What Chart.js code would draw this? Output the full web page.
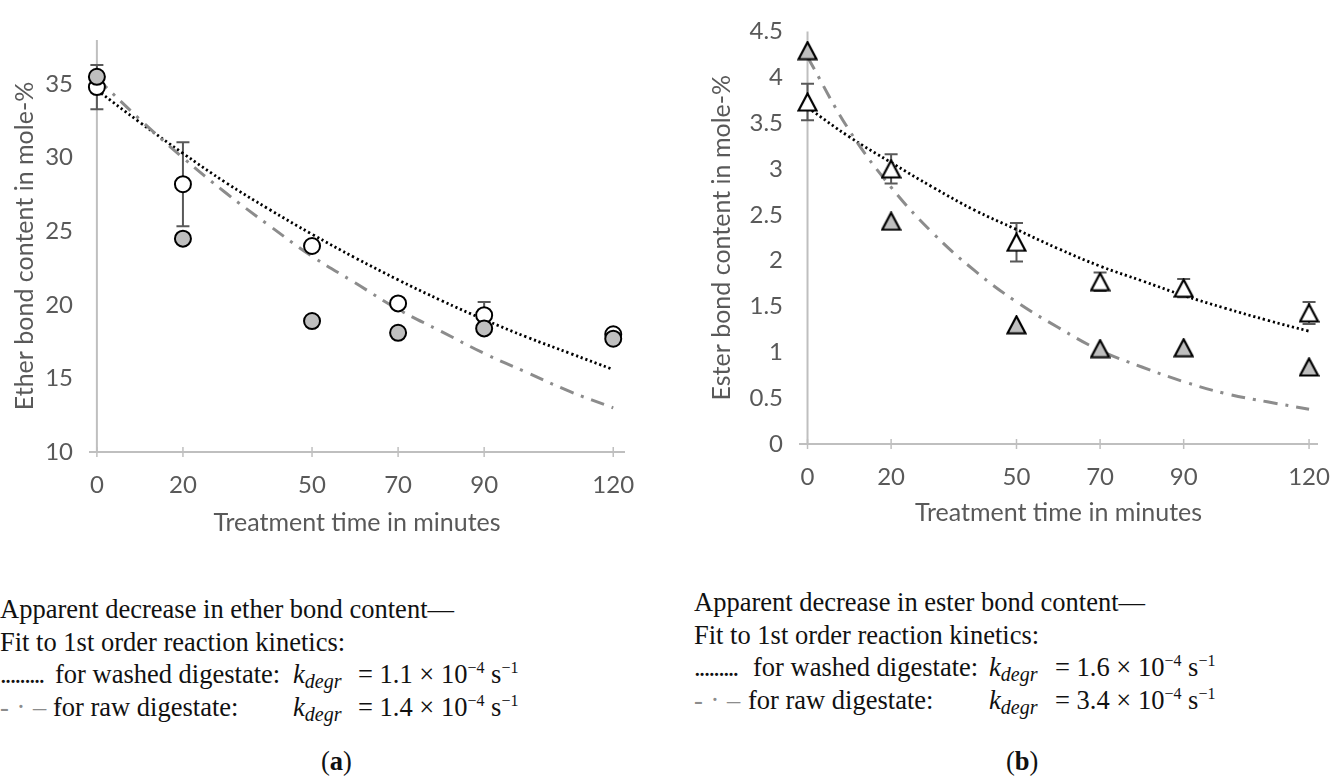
<!DOCTYPE html>
<html>
<head>
<meta charset="utf-8">
<script src="https://cdn.jsdelivr.net/npm/chart.js@4.4.1/dist/chart.umd.min.js"></script>
<style>
  html, body { margin: 0; padding: 0; background: #fff; }
  body { width: 1331px; height: 783px; position: relative; overflow: hidden; }
  canvas { position: absolute; top: 0; }
  #chartA { left: 0; }
  #chartB { left: 700px; }
  .caption { position: absolute; font-family: "Liberation Serif", serif; font-size: 26.5px; color: #111; }
  .caption .ln { position: relative; height: 32.5px; line-height: 32.5px; white-space: nowrap; }
  .caption .abs { position: absolute; top: 0; }
  .dots { letter-spacing: -1.8px; }
  .dashdot { color: #8c8c8c; letter-spacing: 0.5px; }
  .k { font-style: italic; }
  .k sub { font-size: 20px; position: relative; top: 5px; vertical-align: baseline; }
  .sup { font-size: 16px; position: relative; top: -10px; }
  .panel { position: absolute; font-family: "Liberation Serif", serif; font-size: 26.5px; color: #111; }
</style>
</head>
<body>
<canvas id="chartA" width="665" height="560"></canvas>
<canvas id="chartB" width="651" height="560"></canvas>

<div class="caption" style="left:0;top:593px;">
  <div class="ln">Apparent decrease in ether bond content—</div>
  <div class="ln">Fit to 1st order reaction kinetics:</div>
  <div class="ln"><span class="abs dots" style="left:0">.........</span><span class="abs" style="left:55px">for washed digestate:</span><span class="abs k" style="left:293px">k<sub>degr</sub></span><span class="abs" style="left:358px">= 1.1 × 10<span class="sup">−4</span> s<span class="sup">−1</span></span></div>
  <div class="ln"><span class="abs dashdot" style="left:0">- · – ·</span><span class="abs" style="left:53px">for raw digestate:</span><span class="abs k" style="left:293px">k<sub>degr</sub></span><span class="abs" style="left:358px">= 1.4 × 10<span class="sup">−4</span> s<span class="sup">−1</span></span></div>
</div>

<div class="caption" style="left:694px;top:586px;">
  <div class="ln">Apparent decrease in ester bond content—</div>
  <div class="ln">Fit to 1st order reaction kinetics:</div>
  <div class="ln"><span class="abs dots" style="left:0">.........</span><span class="abs" style="left:59px">for washed digestate:</span><span class="abs k" style="left:295px">k<sub>degr</sub></span><span class="abs" style="left:361px">= 1.6 × 10<span class="sup">−4</span> s<span class="sup">−1</span></span></div>
  <div class="ln"><span class="abs dashdot" style="left:0">- · – ·</span><span class="abs" style="left:54px">for raw digestate:</span><span class="abs k" style="left:295px">k<sub>degr</sub></span><span class="abs" style="left:361px">= 3.4 × 10<span class="sup">−4</span> s<span class="sup">−1</span></span></div>
</div>

<div class="panel" style="left:321px;top:746px;">(<b>a</b>)</div>
<div class="panel" style="left:1006px;top:746px;">(<b>b</b>)</div>

<script>
// sampling times (minutes) and tick values
const timesMin = [0, 20, 50, 70, 90, 120];
const fitTimes = [0, 10, 20, 30, 40, 50, 60, 70, 80, 90, 100, 110, 120];
const etherTicks = [10, 15, 20, 25, 30, 35];
const esterTicks = [0, 0.5, 1, 1.5, 2, 2.5, 3, 3.5, 4, 4.5];

// (a) ether bonds, mole-%
const etherWashed = [34.8, 28.2, 24.0, 20.1, 19.3, 18.0];
const etherWashedErr = [1.5, 2.85, 0, 0, 0.9, 0];
const etherRaw = [35.5, 24.5, 18.9, 18.1, 18.4, 17.7];
const etherFitWashed = [34.6, 32.4, 30.3, 28.3, 26.5, 24.8, 23.2, 21.7, 20.3, 19.0, 17.8, 16.7, 15.6];
const etherFitRaw = [35.4, 32.6, 30.0, 27.6, 25.4, 23.3, 21.5, 19.7, 18.2, 16.7, 15.4, 14.1, 13.0];

// (b) ester bonds, mole-%
const esterWashed = [3.73, 3.0, 2.2, 1.77, 1.70, 1.43];
const esterWashedErr = [0.2, 0.16, 0.21, 0.1, 0.1, 0.12];
const esterRaw = [4.29, 2.43, 1.30, 1.04, 1.05, 0.84];
const esterFitWashed = [3.67, 3.35, 3.07, 2.80, 2.55, 2.34, 2.13, 1.94, 1.78, 1.62, 1.48, 1.35, 1.23];
const esterFitRaw = [4.22, 3.42, 2.80, 2.30, 1.89, 1.55, 1.27, 1.02, 0.84, 0.68, 0.55, 0.46, 0.38];

const axisGrey = '#bfbfbf';
const textGrey = '#595959';
const tickFont = { family: 'Lato', size: 24 };
const titleFont = { family: 'Lato', size: 25 };

const pts = (xs, ys) => xs.map((x, i) => ({ x: x, y: ys[i] }));

// Excel-like triangle marker (as tall as it is wide)
function triangleMarker(fill) {
  const c = document.createElement('canvas');
  c.width = 21; c.height = 20;
  const g = c.getContext('2d');
  g.beginPath();
  g.moveTo(10.5, 1.5);
  g.lineTo(19.5, 18.5);
  g.lineTo(1.5, 18.5);
  g.closePath();
  g.fillStyle = fill;
  g.fill();
  g.lineWidth = 2.2;
  g.strokeStyle = '#000';
  g.stroke();
  return c;
}

// y axis line at t = 0, cross ticks on the x axis, error bars
const axisExtras = {
  id: 'axisExtras',
  beforeDatasetsDraw(chart, args, opts) {
    const ctx = chart.ctx;
    const x = chart.scales.x, y = chart.scales.y;
    ctx.save();
    ctx.strokeStyle = axisGrey;
    ctx.lineWidth = 2;
    const x0 = x.getPixelForValue(0);
    ctx.beginPath();
    ctx.moveTo(x0, y.top);
    ctx.lineTo(x0, y.bottom);
    ctx.stroke();

    ctx.lineWidth = 1.5;
    x.ticks.forEach(t => {
      const px = x.getPixelForValue(t.value);
      ctx.beginPath();
      ctx.moveTo(px, y.bottom - 5);
      ctx.lineTo(px, y.bottom + 5);
      ctx.stroke();
    });

    ctx.strokeStyle = '#595959';
    ctx.lineWidth = 2;
    opts.values.forEach((v, i) => {
      const e = opts.errors[i];
      if (!e) return;
      const px = x.getPixelForValue(opts.times[i]);
      const top = y.getPixelForValue(v + e);
      const bot = y.getPixelForValue(v - e);
      ctx.beginPath();
      ctx.moveTo(px, top); ctx.lineTo(px, bot);
      ctx.moveTo(px - 6.5, top); ctx.lineTo(px + 6.5, top);
      ctx.moveTo(px - 6.5, bot); ctx.lineTo(px + 6.5, bot);
      ctx.stroke();
    });
    ctx.restore();
  }
};

function makeChart(id, cfg) {
  return new Chart(document.getElementById(id), {
    type: 'scatter',
    data: {
      datasets: [
        { data: pts(fitTimes, cfg.fitWashed), showLine: true, pointRadius: 0, borderColor: '#000',
          borderWidth: 2.8, borderDash: [2.2, 2.8], tension: 0.4, order: 3 },
        { data: pts(fitTimes, cfg.fitRaw), showLine: true, pointRadius: 0, borderColor: '#8c8c8c',
          borderWidth: 3, borderDash: [14, 8, 3, 8], tension: 0.4, order: 2 },
        { data: pts(timesMin, cfg.washed), pointStyle: cfg.markerWashed, pointRadius: cfg.radius,
          backgroundColor: '#fff', borderColor: '#000', borderWidth: 2, order: 1 },
        { data: pts(timesMin, cfg.raw), pointStyle: cfg.markerRaw, pointRadius: cfg.radius,
          backgroundColor: '#bfbfbf', borderColor: '#000', borderWidth: 2, order: 0 }
      ]
    },
    options: {
      responsive: false,
      animation: false,
      clip: false,
      layout: { padding: cfg.padding },
      plugins: {
        legend: { display: false },
        tooltip: { enabled: false },
        axisExtras: { times: timesMin, values: cfg.washed, errors: cfg.errors }
      },
      scales: {
        x: {
          type: 'linear', min: cfg.xmin, max: cfg.xmax,
          afterBuildTicks: s => { s.ticks = timesMin.map(v => ({ value: v })); },
          afterFit: s => { s.height = cfg.xHeight; s.paddingLeft = 0; s.paddingRight = 0; },
          grid: { display: false, drawTicks: false },
          border: { display: true, color: axisGrey, width: 2 },
          ticks: { color: textGrey, font: tickFont, padding: 19, maxRotation: 0, autoSkip: false,
                   callback: v => String(v) },
          title: { display: true, text: 'Treatment time in minutes', color: textGrey, font: titleFont,
                   padding: { top: 0, bottom: 2 } }
        },
        y: {
          min: cfg.ymin, max: cfg.ymax,
          afterBuildTicks: s => { s.ticks = cfg.yTicks.map(v => ({ value: v })); },
          afterFit: s => { s.width = cfg.yWidth; },
          grid: { display: false, drawTicks: false },
          border: { display: false },
          ticks: { color: textGrey, font: tickFont, padding: 17, callback: v => String(v) },
          title: { display: true, text: cfg.yTitle, color: textGrey, font: titleFont,
                   padding: { top: cfg.yTitlePad, bottom: 0 } }
        }
      }
    },
    plugins: [axisExtras]
  });
}

function draw() {
  makeChart('chartA', {
    washed: etherWashed, raw: etherRaw, errors: etherWashedErr,
    fitWashed: etherFitWashed, fitRaw: etherFitRaw,
    markerWashed: 'circle', markerRaw: 'circle', radius: 8,
    xmin: -1.6, xmax: 122.5, ymin: 10, ymax: 38, yTicks: etherTicks,
    yTitle: 'Ether bond content in mole-%', yTitlePad: 10,
    yWidth: 90, xHeight: 88,
    padding: { left: 0, top: 40, right: 41, bottom: 20 }
  });
  makeChart('chartB', {
    washed: esterWashed, raw: esterRaw, errors: esterWashedErr,
    fitWashed: esterFitWashed, fitRaw: esterFitRaw,
    markerWashed: triangleMarker('#fff'), markerRaw: triangleMarker('#bfbfbf'), radius: 10,
    xmin: -1.8, xmax: 121.9, ymin: 0, ymax: 4.5, yTicks: esterTicks,
    yTitle: 'Ester bond content in mole-%', yTitlePad: 7,
    yWidth: 100, xHeight: 86,
    padding: { left: 0, top: 25, right: 34, bottom: 30 }
  });
}

document.fonts.load('25px Lato').then(draw, draw);
</script>
</body>
</html>
